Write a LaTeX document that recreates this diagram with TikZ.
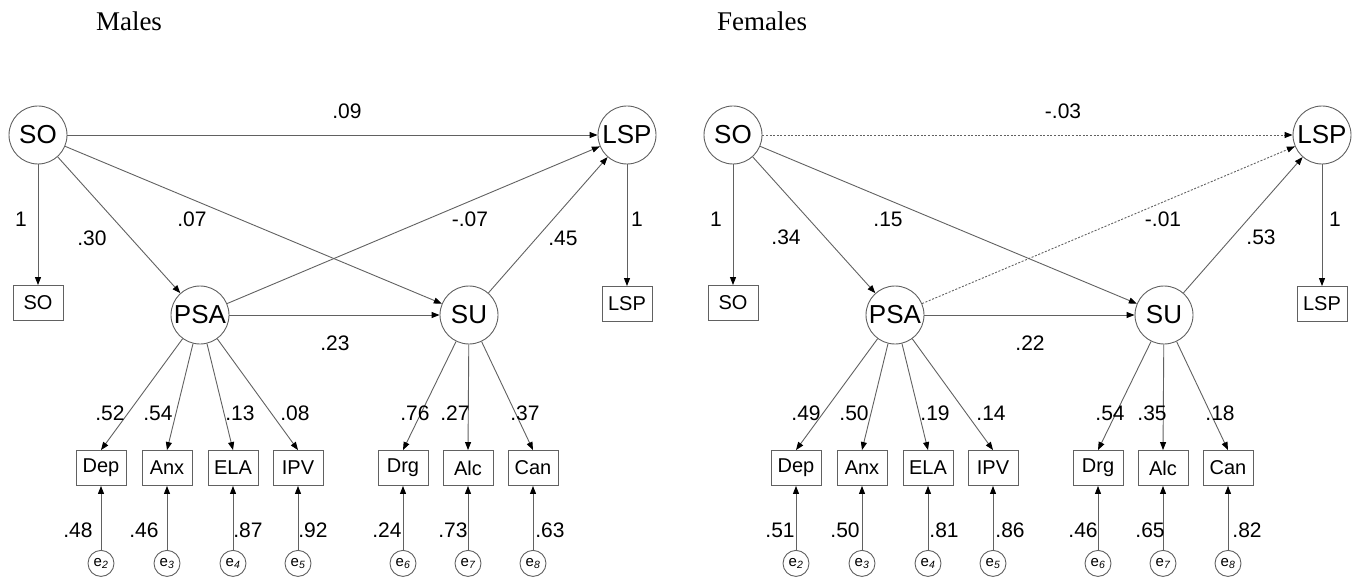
\documentclass[tikz,border=0pt]{standalone}
\usepackage{fontspec}
\setmainfont{Liberation Serif}
\setsansfont{Liberation Sans}
\usetikzlibrary{positioning,arrows.meta}
\definecolor{linegray}{gray}{0.38}

\begin{document}
\begin{tikzpicture}[x=1pt,y=-1pt,
      lat/.style={circle,draw=linegray,line width=0.9pt,minimum size=58pt,inner sep=0pt,
        font=\fontsize{26}{28}\sffamily},
      obs/.style={rectangle,draw=linegray,line width=0.9pt,minimum width=50pt,minimum height=35pt,
        inner sep=0pt,font=\fontsize{20}{22}\sffamily},
      err/.style={circle,draw=linegray,line width=0.9pt,minimum size=26pt,inner sep=0pt,
        font=\fontsize{15}{16}\sffamily},
      coef/.style={font=\fontsize{21}{23}\sffamily,inner sep=0pt},
      ttl/.style={font=\fontsize{27}{30}\selectfont,inner sep=0pt},
      pth/.style={draw=linegray,line width=0.9pt,->},
      nsig/.style={dash pattern=on 2pt off 1.6pt},
      >={Triangle[length=8pt,width=6pt,color=black]}]
    \useasboundingbox (0,0) rectangle (1360,580);
    \node[ttl](tm) at (129,21) {Males};
    \node[ttl](tf) at (762,21) {Females};
    % one panel per group, dotted paths are non-significant
    \foreach \p/\dx/\ls in {m/0/solid,f/695/nsig}{
      \begin{scope}[xshift=\dx]
        \node[lat](\p-SO)  at (38,135)  {SO};
        \node[lat](\p-LSP) at (627,135) {LSP};
        \node[lat](\p-PSA) at (200,315) {PSA};
        \node[lat](\p-SU)  at (469,315) {SU};
        \node[obs](\p-so)  at (38,303)  {SO};
        \node[obs](\p-lsp) at (627,304) {LSP};
        \foreach \b/\x/\i in {Dep/101/2,Anx/167/3,ELA/233/4,IPV/298/5,Drg/403/6,Alc/468/7,Can/533/8}{
          \node[obs](\p-\b) at (\x,468) {\b};
          \node[err,below=64pt of \p-\b](\p-e\i) {e\textsubscript{\itshape\i}};
          \draw[pth](\p-e\i)--(\p-\b);
        }
        \draw[pth,\ls](\p-SO)--(\p-LSP);
        \draw[pth](\p-SO)--(\p-PSA);
        \draw[pth](\p-SO)--(\p-SU);
        \draw[pth,\ls](\p-PSA)--(\p-LSP);
        \draw[pth](\p-PSA)--(\p-SU);
        \draw[pth](\p-SU)--(\p-LSP);
        \draw[pth](\p-SO)--(\p-so);
        \draw[pth](\p-LSP)--(\p-lsp);
        \foreach \b in {Dep,Anx,ELA,IPV}
          \draw[pth](\p-PSA)--(\p-\b.north);
        \foreach \b in {Drg,Alc,Can}
          \draw[pth](\p-SU)--(\p-\b.north);
      \end{scope}
    }
    % coefficients, males
    \foreach \t/\x/\y [count=\k] in {.09/347/111,1/21/219,.30/92/238,.07/192/219,-.07/470/219,
        .45/563/238,1/637/219,.23/335/343,.52/110/413,.54/158/413,.13/240/413,.08/295/413,
        .76/415/413,.27/455/413,.37/525/413,.48/78/530,.46/144/530,.87/248/530,.92/313/530,
        .24/387/530,.73/453/530,.63/550/530}
      \node[coef](mc\k) at (\x,\y) {\t};
    % coefficients, females
    \foreach \t/\x/\y [count=\k] in {-.03/1063/111,1/716/219,.34/786/237,.15/888/219,-.01/1163/219,
        .53/1261/237,1/1335/219,.22/1030/343,.49/806/413,.50/854/413,.19/935/413,.14/991/413,
        .54/1110/413,.35/1152/413,.18/1220/413,.51/780/530,.50/845/530,.81/944/530,.86/1010/530,
        .46/1083/530,.65/1150/530,.82/1247/530}
      \node[coef](fc\k) at (\x,\y) {\t};
  \end{tikzpicture}
\end{document}
